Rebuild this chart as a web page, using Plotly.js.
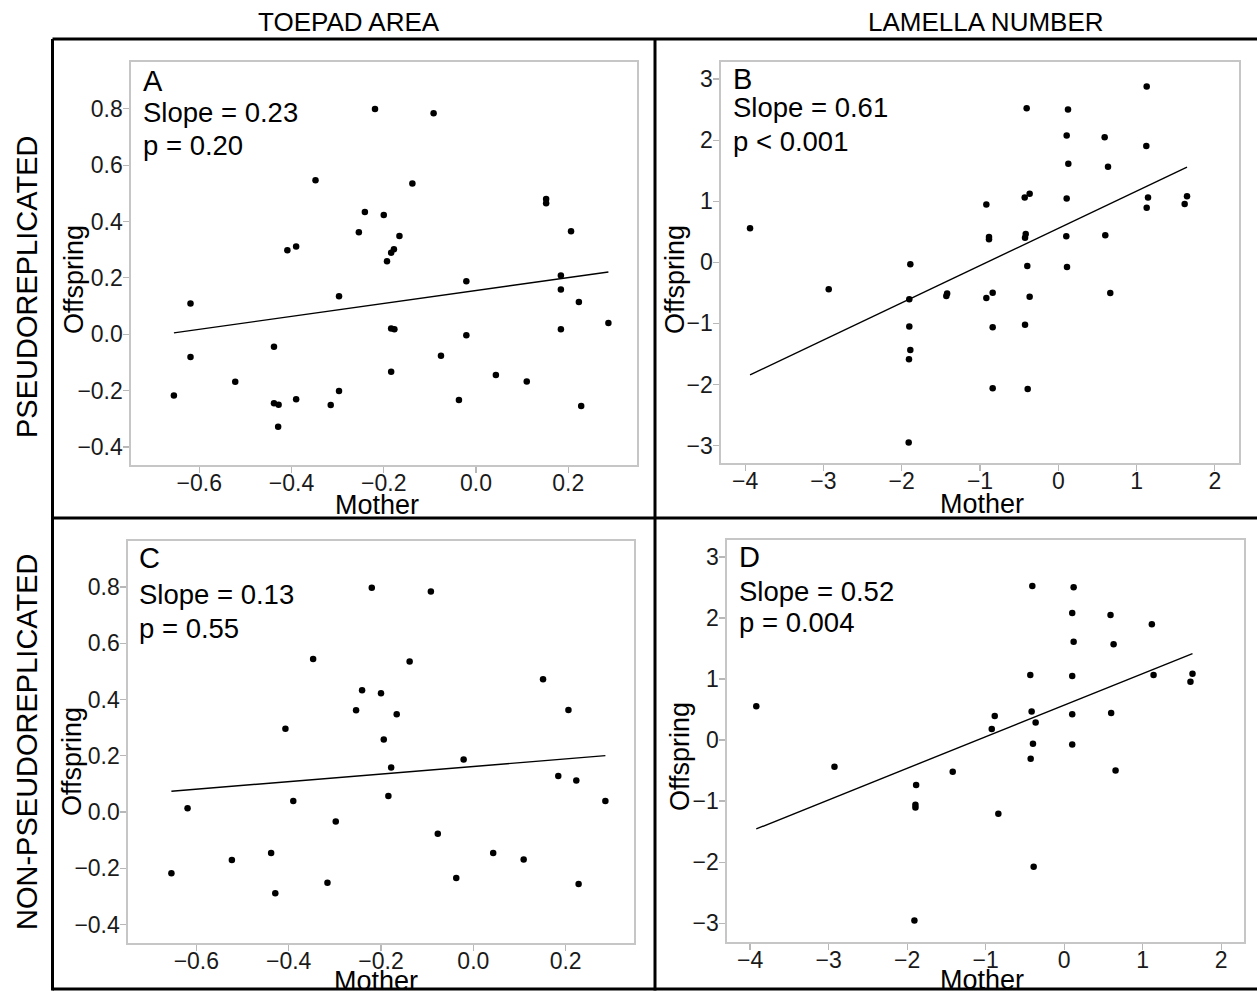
<!DOCTYPE html>
<html>
<head>
<meta charset="utf-8">
<script src="https://cdn.plot.ly/plotly-3.0.1.min.js"></script>
<style>html,body{margin:0;padding:0;background:#fff;}#chart{width:1257px;height:991px;}</style>
</head>
<body>
<div id="chart"></div>
<script>
// ---------- DATA ----------
const columnHeaders = ["TOEPAD AREA", "LAMELLA NUMBER"];
const rowHeaders = ["PSEUDOREPLICATED", "NON-PSEUDOREPLICATED"];
const panelLetters = ["A", "B", "C", "D"];
const slopeLabels = ["Slope = 0.23", "Slope = 0.61", "Slope = 0.13", "Slope = 0.52"];
const pLabels = ["p = 0.20", "p < 0.001", "p = 0.55", "p = 0.004"];
const xTitle = "Mother";
const yTitle = "Offspring";

// Panel A: toepad area, pseudoreplicated
const motherA = [-0.348,-0.254,-0.409,-0.390,-0.297,-0.619,-0.619,-0.438,-0.522,-0.655,-0.438,-0.428,-0.390,-0.429,-0.297,-0.315,-0.219,-0.092,-0.138,0.152,0.152,-0.241,-0.200,-0.166,-0.178,-0.184,-0.193,0.206,-0.021,0.184,0.184,0.223,0.287,-0.184,-0.177,-0.021,0.184,-0.076,-0.184,0.043,0.110,-0.037,0.228];
const offspringA = [0.546,0.362,0.298,0.311,0.135,0.109,-0.081,-0.044,-0.169,-0.217,-0.245,-0.250,-0.231,-0.328,-0.201,-0.251,0.799,0.784,0.535,0.480,0.465,0.434,0.423,0.349,0.302,0.289,0.259,0.365,0.188,0.208,0.159,0.114,0.040,0.020,0.018,-0.004,0.018,-0.076,-0.133,-0.145,-0.168,-0.233,-0.255];

// Panel B: lamella number, pseudoreplicated
const motherB = [-3.937,-2.932,-1.890,-1.903,-1.903,-1.890,-1.907,-1.911,-1.42,-1.43,1.129,-0.404,0.124,0.107,0.592,1.124,0.128,0.635,-0.919,-0.429,-0.366,0.107,1.146,1.129,1.644,1.614,-0.885,-0.885,-0.416,-0.425,0.102,0.600,-0.396,0.111,-0.919,-0.838,-0.366,0.664,-0.838,-0.425,-0.838,-0.391];
const offspringB = [0.556,-0.441,-0.033,-0.605,-1.052,-1.433,-1.585,-2.948,-0.51,-0.55,2.876,2.521,2.500,2.075,2.047,1.905,1.611,1.562,0.948,1.062,1.121,1.046,1.062,0.892,1.083,0.953,0.413,0.376,0.462,0.402,0.425,0.441,-0.060,-0.077,-0.583,-0.497,-0.562,-0.502,-1.062,-1.020,-2.059,-2.075];

// Panel C: toepad area, non-pseudoreplicated
const motherC = [-0.347,-0.254,-0.407,-0.390,-0.619,-0.298,-0.438,-0.523,-0.654,-0.429,-0.316,-0.220,-0.092,-0.138,0.151,-0.241,-0.200,-0.166,0.206,-0.194,-0.021,-0.178,0.184,0.223,0.286,-0.184,-0.077,0.043,0.109,-0.037,0.228];
const offspringC = [0.544,0.362,0.296,0.039,0.013,-0.034,-0.146,-0.171,-0.218,-0.289,-0.252,0.798,0.784,0.535,0.472,0.433,0.422,0.348,0.363,0.258,0.187,0.158,0.128,0.112,0.039,0.057,-0.077,-0.146,-0.169,-0.235,-0.256];

// Panel D: lamella number, non-pseudoreplicated
const motherD = [-3.921,-2.925,-1.885,-1.894,-1.894,-1.907,-1.419,-0.405,0.121,0.103,0.591,1.117,0.121,0.630,-0.431,0.103,1.139,1.635,1.609,-0.884,-0.922,-0.414,-0.363,0.103,0.599,-0.397,0.103,-0.426,0.655,-0.838,-0.388];
const offspringD = [0.555,-0.439,-0.738,-1.061,-1.104,-2.954,-0.520,2.524,2.502,2.082,2.049,1.897,1.612,1.570,1.067,1.051,1.067,1.088,0.957,0.396,0.183,0.467,0.287,0.424,0.445,-0.062,-0.073,-0.308,-0.499,-1.208,-2.075];

// Fitted regression lines (slope, intercept) per panel
const fitSlopes = [0.229, 0.609, 0.135, 0.517];
const fitIntercepts = [0.155, 0.556, 0.162, 0.571];

// Tick values / labels
const toepadXTicks = [-0.6, -0.4, -0.2, 0.0, 0.2];
const toepadXLabels = ["\u22120.6", "\u22120.4", "\u22120.2", "0.0", "0.2"];
const toepadYTicks = [-0.4, -0.2, 0.0, 0.2, 0.4, 0.6, 0.8];
const toepadYLabels = ["\u22120.4", "\u22120.2", "0.0", "0.2", "0.4", "0.6", "0.8"];
const lamellaXTicks = [-4, -3, -2, -1, 0, 1, 2];
const lamellaXLabels = ["\u22124", "\u22123", "\u22122", "\u22121", "0", "1", "2"];
const lamellaYTicks = [-3, -2, -1, 0, 1, 2, 3];
const lamellaYLabels = ["\u22123", "\u22122", "\u22121", "0", "1", "2", "3"];

// ---------- LAYOUT HELPERS ----------
const W = 1257, H = 991;
const fx = p => p / W;
const fy = p => 1 - p / H;
const FONT = "Liberation Sans, Arial, Helvetica, sans-serif";

const panels = [
  {x: motherA, y: offspringA, ax: "", dom: [131, 637, 62, 465], xr: [-0.748, 0.349], yr: [-0.464, 0.966], xt: toepadXTicks, xl: toepadXLabels, yt: toepadYTicks, yl: toepadYLabels,
   txt: {x: 141, y: [81, 113, 145]}, xtitle: [377, 505], ytitle: [74, 280]},
  {x: motherB, y: offspringB, ax: "2", dom: [721, 1239, 62, 463], xr: [-4.308, 2.308], yr: [-3.284, 3.278], xt: lamellaXTicks, xl: lamellaXLabels, yt: lamellaYTicks, yl: lamellaYLabels,
   txt: {x: 731, y: [79, 108, 141]}, xtitle: [982, 504], ytitle: [675, 280]},
  {x: motherC, y: offspringC, ax: "3", dom: [128, 634, 541, 943], xr: [-0.748, 0.348], yr: [-0.466, 0.964], xt: toepadXTicks, xl: toepadXLabels, yt: toepadYTicks, yl: toepadYLabels,
   txt: {x: 137, y: [558, 594, 628]}, xtitle: [376, 981], ytitle: [72, 762]},
  {x: motherD, y: offspringD, ax: "4", dom: [727, 1244, 540, 942], xr: [-4.294, 2.291], yr: [-3.308, 3.277], xt: lamellaXTicks, xl: lamellaXLabels, yt: lamellaYTicks, yl: lamellaYLabels,
   txt: {x: 737, y: [557, 591, 622]}, xtitle: [982, 980], ytitle: [680, 757]}
];

const data = [];
const layout = {
  width: W, height: H,
  margin: {l: 0, r: 0, t: 0, b: 0},
  paper_bgcolor: "#ffffff", plot_bgcolor: "#ffffff",
  showlegend: false,
  font: {family: FONT, color: "#111111"},
  annotations: [],
  shapes: []
};

panels.forEach((p, i) => {
  const xa = "x" + p.ax, ya = "y" + p.ax;
  data.push({
    type: "scatter", mode: "markers", x: p.x, y: p.y, xaxis: xa, yaxis: ya,
    marker: {color: "#000000", size: 6.5}, hoverinfo: "x+y"
  });
  const xmin = Math.min(...p.x), xmax = Math.max(...p.x);
  data.push({
    type: "scatter", mode: "lines", x: [xmin, xmax],
    y: [fitIntercepts[i] + fitSlopes[i] * xmin, fitIntercepts[i] + fitSlopes[i] * xmax],
    xaxis: xa, yaxis: ya, line: {color: "#000000", width: 1.4}, hoverinfo: "skip"
  });
  const common = {
    showline: true, mirror: true, linecolor: "#c6c6c6", linewidth: 1.6,
    ticks: "outside", ticklen: 6, tickwidth: 1.2, tickcolor: "#b8b8b8",
    showgrid: false, zeroline: false, fixedrange: true,
    tickfont: {family: FONT, size: 23, color: "#1a1a1a"}, tickmode: "array"
  };
  layout["xaxis" + p.ax] = Object.assign({}, common, {
    domain: [fx(p.dom[0]), fx(p.dom[1])], range: p.xr, anchor: ya,
    tickvals: p.xt, ticktext: p.xl, ticklabelstandoff: -9
  });
  layout["yaxis" + p.ax] = Object.assign({}, common, {
    domain: [fy(p.dom[3]), fy(p.dom[2])], range: p.yr, anchor: xa,
    tickvals: p.yt, ticktext: p.yl, ticklabelstandoff: -4
  });
  const lines = [panelLetters[i], slopeLabels[i], pLabels[i]];
  lines.forEach((t, k) => {
    layout.annotations.push({
      text: t, xref: "paper", yref: "paper", x: fx(p.txt.x), y: fy(p.txt.y[k]),
      xanchor: "left", yanchor: "middle", showarrow: false,
      font: {family: FONT, size: k === 0 ? 29 : 27.5, color: "#000000"}
    });
  });
  layout.annotations.push({
    text: xTitle, xref: "paper", yref: "paper", x: fx(p.xtitle[0]), y: fy(p.xtitle[1]),
    xanchor: "center", yanchor: "middle", showarrow: false,
    font: {family: FONT, size: 27, color: "#000000"}
  });
  layout.annotations.push({
    text: yTitle, xref: "paper", yref: "paper", x: fx(p.ytitle[0]), y: fy(p.ytitle[1]),
    xanchor: "center", yanchor: "middle", showarrow: false, textangle: -90,
    font: {family: FONT, size: 27, color: "#000000"}
  });
});

// Column and row headers
layout.annotations.push({text: columnHeaders[0], xref: "paper", yref: "paper", x: fx(349), y: fy(22), xanchor: "center", yanchor: "middle", showarrow: false, font: {family: FONT, size: 26, color: "#000000"}});
layout.annotations.push({text: columnHeaders[1], xref: "paper", yref: "paper", x: fx(986), y: fy(22), xanchor: "center", yanchor: "middle", showarrow: false, font: {family: FONT, size: 26, color: "#000000"}});
layout.annotations.push({text: rowHeaders[0], xref: "paper", yref: "paper", x: fx(27), y: fy(287), xanchor: "center", yanchor: "middle", textangle: -90, showarrow: false, font: {family: FONT, size: 29, color: "#000000"}});
layout.annotations.push({text: rowHeaders[1], xref: "paper", yref: "paper", x: fx(27), y: fy(742), xanchor: "center", yanchor: "middle", textangle: -90, showarrow: false, font: {family: FONT, size: 29, color: "#000000"}});

// Black grid frame around the four panels
const frameLine = {type: "line", xref: "paper", yref: "paper", line: {color: "#000000", width: 3}};
layout.shapes.push(Object.assign({}, frameLine, {x0: fx(52.5), x1: 1, y0: fy(39), y1: fy(39)}));
layout.shapes.push(Object.assign({}, frameLine, {x0: fx(52.5), x1: 1, y0: fy(518), y1: fy(518)}));
layout.shapes.push(Object.assign({}, frameLine, {x0: fx(52.5), x1: 1, y0: fy(989), y1: fy(989)}));
layout.shapes.push(Object.assign({}, frameLine, {x0: fx(52.5), x1: fx(52.5), y0: fy(39), y1: fy(990.5)}));
layout.shapes.push(Object.assign({}, frameLine, {x0: fx(655), x1: fx(655), y0: fy(39), y1: fy(990.5)}));

Plotly.newPlot("chart", data, layout, {displayModeBar: false, staticPlot: true});
</script>
</body>
</html>
